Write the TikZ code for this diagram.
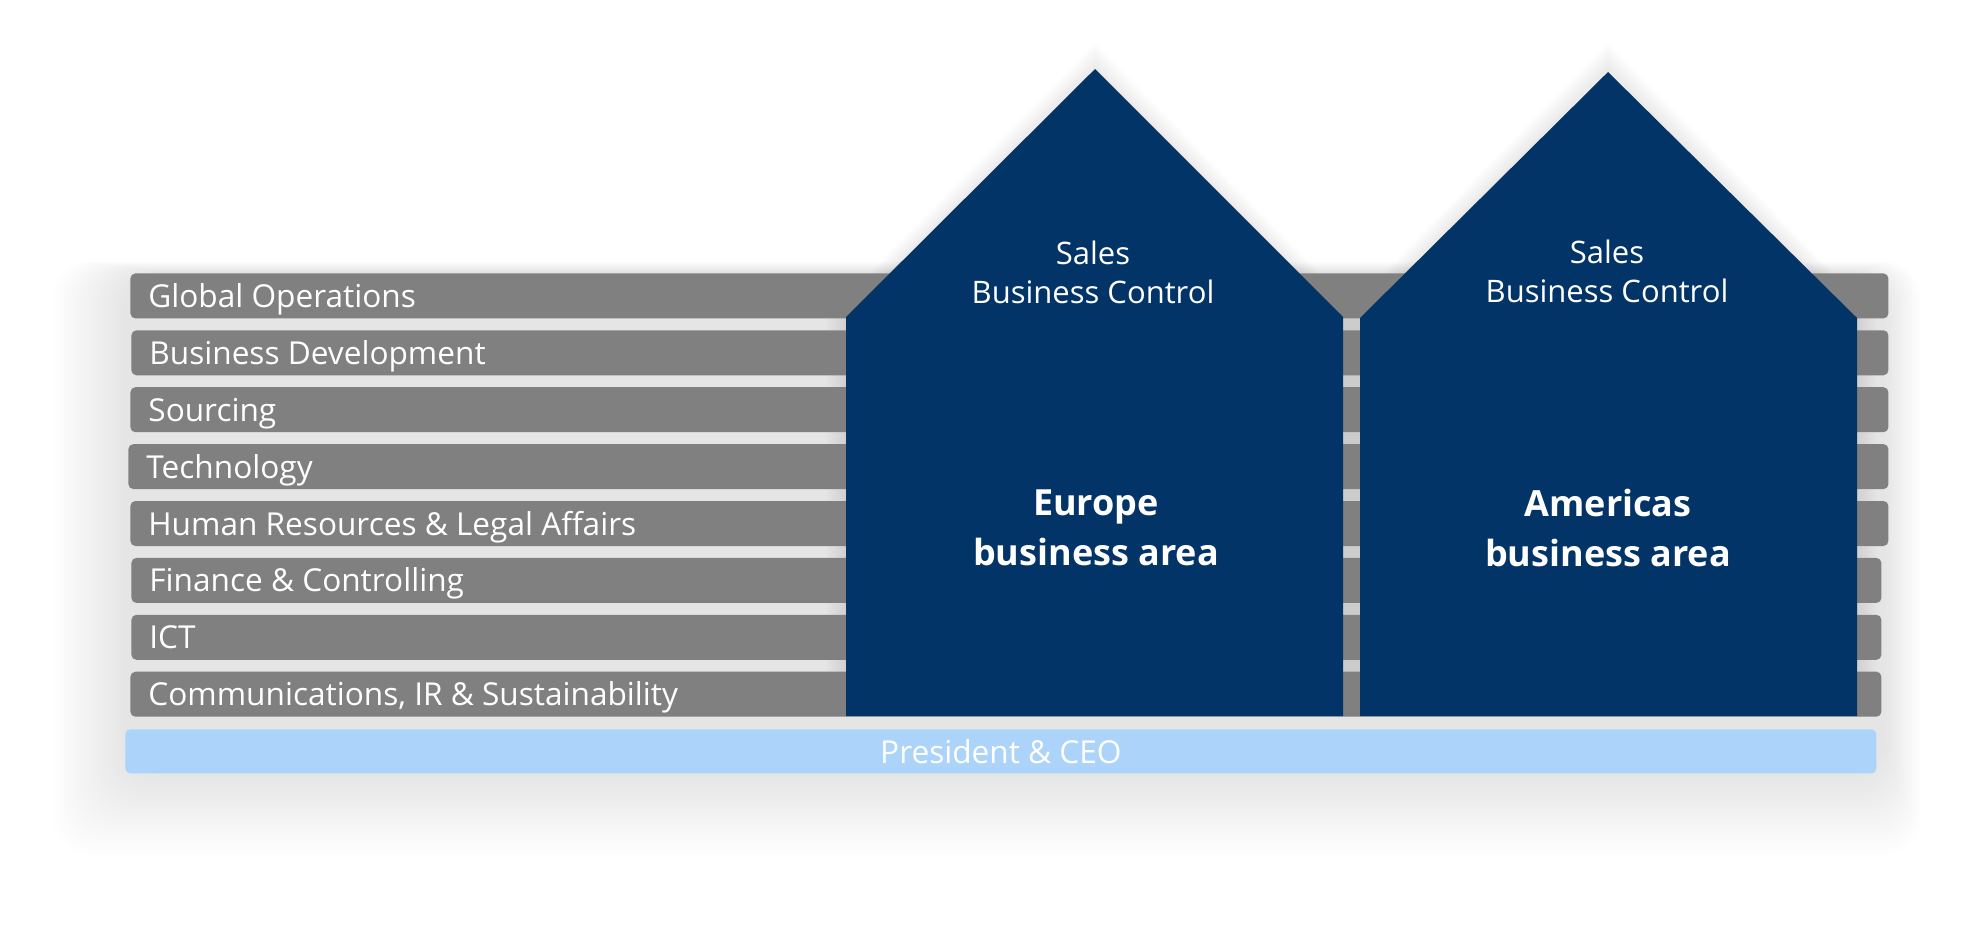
\documentclass[tikz,border=0pt]{standalone}
\usepackage{fontspec}
\setmainfont{Open Sans}
\usepackage{tikz}
\usetikzlibrary{calc}
\definecolor{navy}{RGB}{2,52,103}
\definecolor{barcol}{RGB}{128,128,128}
\definecolor{ceocol}{RGB}{172,212,250}
\tikzstyle{bar} = [rectangle, rounded corners=2.5pt, fill=barcol, minimum height=22.5pt, inner sep=0pt]
\tikzstyle{barlabel} = [text=white, font=\fontsize{15.8}{19}\selectfont, inner sep=0pt, anchor=base west]
\tikzstyle{ceo} = [rectangle, rounded corners=2.5pt, fill=ceocol, text=white, font=\fontsize{15.8}{19}\selectfont, minimum height=22pt, inner sep=0pt]
\tikzstyle{house} = [fill=navy]
\tikzstyle{housetext} = [text=white, align=center, inner sep=0pt, font=\fontsize{15.5}{19.5}\selectfont]
\tikzstyle{areatext} = [text=white, align=center, inner sep=0pt, font=\bfseries\fontsize{18}{25}\selectfont]

\begin{document}
\begin{tikzpicture}[x=0.5pt,y=-0.5pt]
\useasboundingbox (0,0) rectangle (1973,932);
\fill[white] (0,0) rectangle (1973,932);

\foreach \k in {1,...,26} {
    \fill[black, opacity=0.0045, rounded corners=18pt] (128-2.9*\k, 272-0.4*\k) rectangle (1884+1.4*\k, 772+3.2*\k);
}
\foreach \l/\p/\r in {846/1095/1343, 1360/1608/1857} {
    \foreach \k in {1,...,10} {
        \fill[black, opacity=0.006] (\l-2*\k,716) -- (\l-2*\k,317) -- (\p,70-2.8*\k) -- (\r+2*\k,317) -- (\r+2*\k,716) -- cycle;
    }
}

\foreach \lbl/\l/\r [count=\i from 0] in {Global Operations/130/1888, Business Development/131/1888, Sourcing/130/1888, Technology/128/1888, Human Resources \& Legal Affairs/130/1888, Finance \& Controlling/131/1881, ICT/131/1881, {Communications, IR \& Sustainability/130/1881}} {
    \pgfmathsetmacro\w{(\r-\l)/2}
    \node[bar, anchor=north west, minimum width=\w pt] (bar\i) at (\l, 273+56.9*\i) {};
    \node[barlabel] (lbl\i) at ($(bar\i.west)+(18,11.5)$) {\lbl};
}

\node[ceo, anchor=north west, minimum width=875.5pt] (pres) at (125,729) {President \& CEO};

\fill[house] (846,716) -- (846,317) -- (1095,69) -- (1343,317) -- (1343,716) -- cycle;
\fill[house] (1360,716) -- (1360,318) -- (1608,72) -- (1857,318) -- (1857,716) -- cycle;

\node[housetext] (sales1) at (1093,272) {Sales\\Business Control};
\node[housetext] (sales2) at (1607,271) {Sales\\Business Control};
\node[areatext] (europe) at (1096,528) {Europe\\business area};
\node[areatext] (americas) at (1608,528) {Americas\\business area};
\end{tikzpicture}
\end{document}
